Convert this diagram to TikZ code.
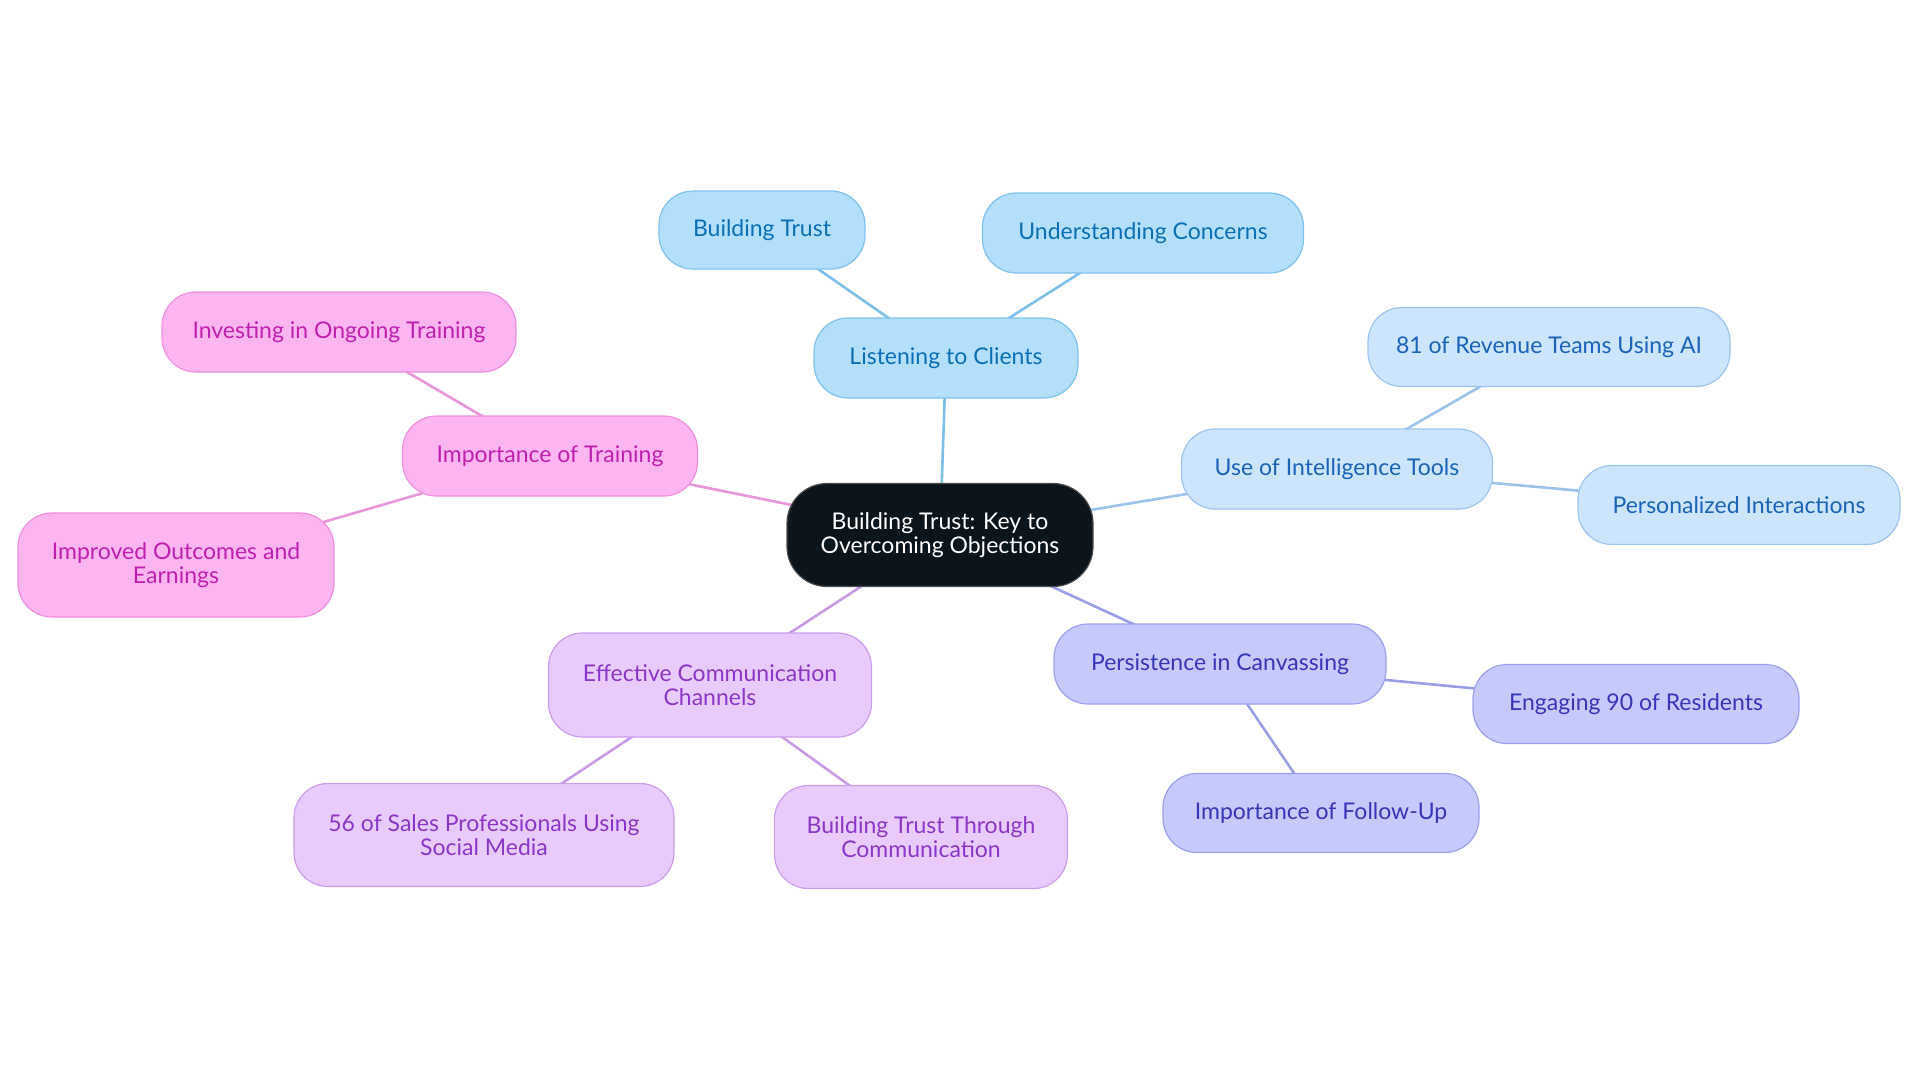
\documentclass[tikz,border=0pt]{standalone}
\usepackage{fontspec}
\setmainfont{Lato}
\usetikzlibrary{backgrounds}
\definecolor{bAfill}{HTML}{B3DFFD}\definecolor{bAdraw}{HTML}{7EC2EC}\definecolor{bAtext}{HTML}{0B6FB5}\definecolor{bAline}{HTML}{7DBFE8}
\definecolor{bBfill}{HTML}{CCE4FC}\definecolor{bBdraw}{HTML}{9DC4EE}\definecolor{bBtext}{HTML}{1A63B8}\definecolor{bBline}{HTML}{9CC2EA}
\definecolor{pCfill}{HTML}{C6C9FC}\definecolor{pCdraw}{HTML}{9CA0EA}\definecolor{pCtext}{HTML}{3636B8}\definecolor{pCline}{HTML}{9A9EE6}
\definecolor{vDfill}{HTML}{E8CBFC}\definecolor{vDdraw}{HTML}{CB9DEC}\definecolor{vDtext}{HTML}{8B36C8}\definecolor{vDline}{HTML}{C99AE6}
\definecolor{kEfill}{HTML}{FDB5F2}\definecolor{kEdraw}{HTML}{EE90DE}\definecolor{kEtext}{HTML}{C020AE}\definecolor{kEline}{HTML}{E995DA}
\definecolor{ctrfill}{HTML}{0C141C}
\begin{document}
\begin{tikzpicture}[x=0.5pt,y=-0.5pt,
  base/.style={rounded corners=17pt,line width=0.6pt,align=center,font=\fontsize{11.5}{12.3}\selectfont,inner sep=0pt},
  grpA/.style={base,fill=bAfill,draw=bAdraw,text=bAtext},
  grpB/.style={base,fill=bBfill,draw=bBdraw,text=bBtext},
  grpC/.style={base,fill=pCfill,draw=pCdraw,text=pCtext},
  grpD/.style={base,fill=vDfill,draw=vDdraw,text=vDtext},
  grpE/.style={base,fill=kEfill,draw=kEdraw,text=kEtext},
  lnA/.style={draw=bAline,line width=1.3pt},
  lnB/.style={draw=bBline,line width=1.3pt},
  lnC/.style={draw=pCline,line width=1.3pt},
  lnD/.style={draw=vDline,line width=1.3pt},
  lnE/.style={draw=kEline,line width=1.3pt},
  sz/.style n args={2}{minimum width=#1*0.5pt,minimum height=#2*0.5pt}]
\useasboundingbox (0,0) rectangle (1920,1083);
\node[base,fill=ctrfill,draw=black!70,text=white,rounded corners=20pt,sz={306}{103}] (C) at (940,535) {Building Trust: Key to\\Overcoming Objections};
\node[grpA,sz={264}{80}] (L) at (946,358) {Listening to Clients};
\node[grpA,sz={206}{78}] (BT) at (762,230) {Building Trust};
\node[grpA,sz={321}{80}] (UC) at (1143,233) {Understanding Concerns};
\node[grpB,sz={311}{80}] (UI) at (1337,469) {Use of Intelligence Tools};
\node[grpB,sz={362}{79}] (R81) at (1549,347) {81 of Revenue Teams Using AI};
\node[grpB,sz={322}{79}] (PI) at (1739,505) {Personalized Interactions};
\node[grpC,sz={332}{80}] (PC) at (1220,664) {Persistence in Canvassing};
\node[grpC,sz={326}{79}] (E90) at (1636,704) {Engaging 90 of Residents};
\node[grpC,sz={316}{79}] (FU) at (1321,813) {Importance of Follow-Up};
\node[grpD,sz={323}{104}] (EC) at (710,685) {Effective Communication\\Channels};
\node[grpD,sz={380}{103}] (S56) at (484,835) {56 of Sales Professionals Using\\Social Media};
\node[grpD,sz={293}{103}] (BTC) at (921,837) {Building Trust Through\\Communication};
\node[grpE,sz={295}{80}] (IT) at (550,456) {Importance of Training};
\node[grpE,sz={354}{80}] (IOT) at (339,332) {Investing in Ongoing Training};
\node[grpE,sz={316}{104}] (IOE) at (176,565) {Improved Outcomes and\\Earnings};
\begin{scope}[on background layer]
\draw[lnA] (C.center) -- (L.center);
\draw[lnA] (L.center) -- (BT.center);
\draw[lnA] (L.center) -- (UC.center);
\draw[lnB] (C.center) -- (UI.center);
\draw[lnB] (UI.center) -- (R81.center);
\draw[lnB] (UI.center) -- (PI.center);
\draw[lnC] (C.center) -- (PC.center);
\draw[lnC] (PC.center) -- (E90.center);
\draw[lnC] (PC.center) -- (FU.center);
\draw[lnD] (C.center) -- (EC.center);
\draw[lnD] (EC.center) -- (S56.center);
\draw[lnD] (EC.center) -- (BTC.center);
\draw[lnE] (C.center) -- (IT.center);
\draw[lnE] (IT.center) -- (IOT.center);
\draw[lnE] (IT.center) -- (IOE.center);
\end{scope}
\end{tikzpicture}
\end{document}
